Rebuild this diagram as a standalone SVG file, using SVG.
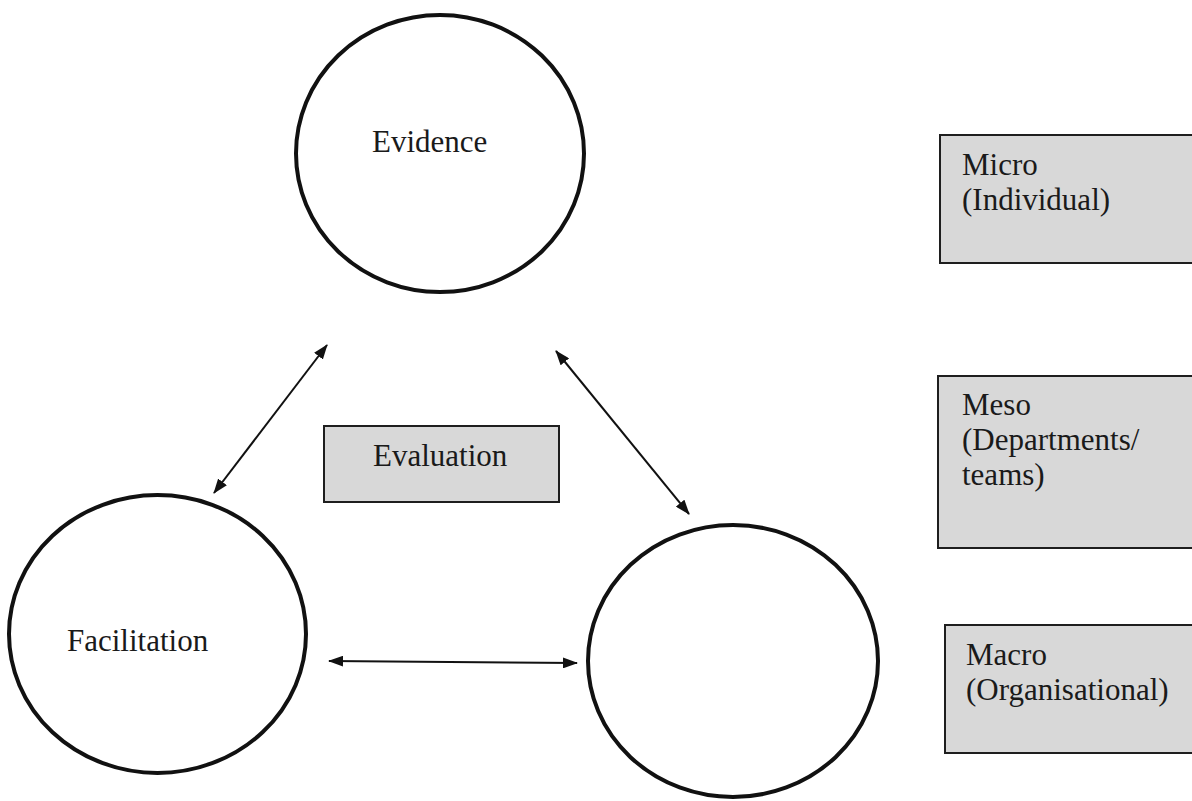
<svg xmlns="http://www.w3.org/2000/svg" width="1192" height="801" viewBox="0 0 1192 801">
  <style>
    .ring { fill: #ffffff; stroke: #111111; stroke-width: 4; }
    .box { fill: #d8d8d8; stroke: #1e1e1e; stroke-width: 2; }
    .lbl { font-family: "Liberation Serif", "Times New Roman", serif; font-size: 31px; fill: #1a1a1a; }
    .link { stroke: #111111; stroke-width: 2; fill: none; marker-start: url(#head); marker-end: url(#head); }
  </style>
  <defs>
    <marker id="head" viewBox="0 0 15 11" refX="14" refY="5.5" markerWidth="15" markerHeight="11" markerUnits="userSpaceOnUse" orient="auto-start-reverse">
      <path d="M0,0 L15,5.5 L0,11 Z" fill="#111111"/>
    </marker>
  </defs>

  <rect width="1192" height="801" fill="#ffffff"/>

  <!-- three domains -->
  <g id="evidence">
    <ellipse class="ring" cx="440" cy="153.5" rx="144" ry="138.5"/>
    <text class="lbl" x="372" y="152">Evidence</text>
  </g>
  <g id="facilitation">
    <ellipse class="ring" cx="157.5" cy="634" rx="148.5" ry="139"/>
    <text class="lbl" x="67" y="651">Facilitation</text>
  </g>
  <g id="context">
    <ellipse class="ring" cx="733" cy="661" rx="145" ry="136"/>
  </g>

  <!-- centre label -->
  <g id="evaluation">
    <rect class="box" x="324" y="426" width="235" height="76"/>
    <text class="lbl" x="373" y="466">Evaluation</text>
  </g>

  <!-- levels -->
  <g id="micro">
    <rect class="box" x="940" y="135" width="262" height="128"/>
    <text class="lbl" x="962" y="175">Micro</text>
    <text class="lbl" x="962" y="210">(Individual)</text>
  </g>
  <g id="meso">
    <rect class="box" x="938" y="376" width="264" height="172"/>
    <text class="lbl" x="962" y="415">Meso</text>
    <text class="lbl" x="962" y="450">(Departments/</text>
    <text class="lbl" x="962" y="485">teams)</text>
  </g>
  <g id="macro">
    <rect class="box" x="945" y="625" width="257" height="128"/>
    <text class="lbl" x="966" y="665">Macro</text>
    <text class="lbl" x="966" y="700">(Organisational)</text>
  </g>

  <!-- two-way links between domains -->
  <g id="connectors">
    <line class="link" x1="214" y1="493" x2="327" y2="345"/>
    <line class="link" x1="556" y1="351" x2="689" y2="514"/>
    <line class="link" x1="329" y1="661" x2="577" y2="663"/>
  </g>
</svg>
